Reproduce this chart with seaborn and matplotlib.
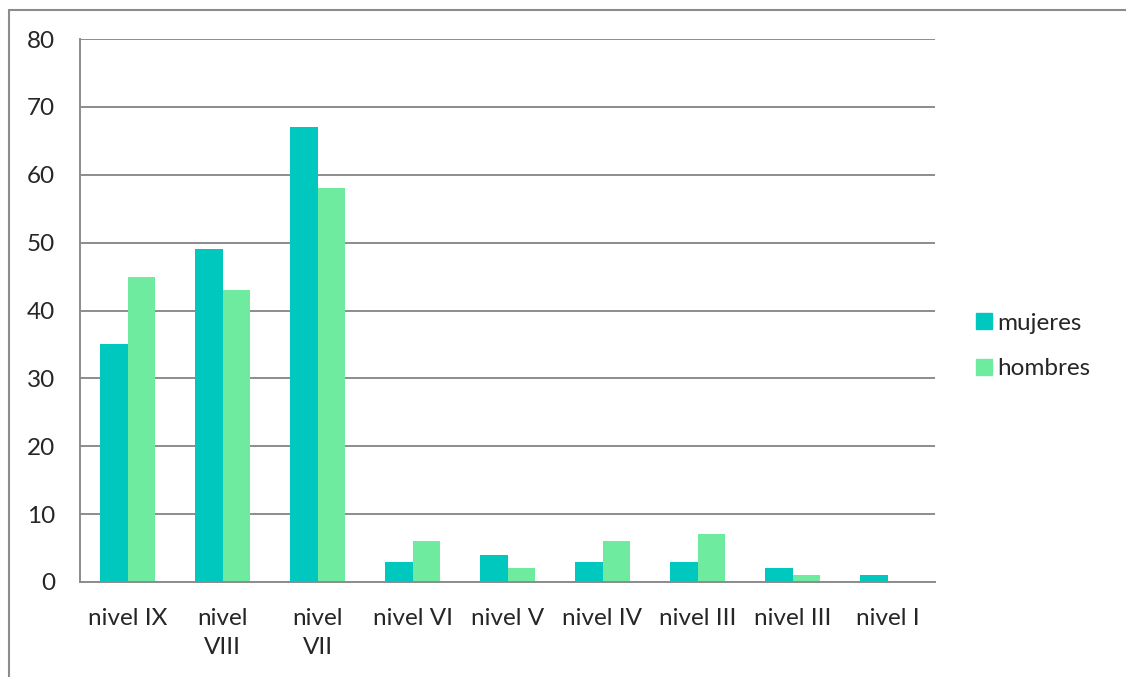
import matplotlib
matplotlib.use("Agg")
import matplotlib.pyplot as plt
import matplotlib.lines as mlines
import pandas as pd
import seaborn as sns

# dati
niveles = ["nivel IX", "nivel\nVIII", "nivel\nVII", "nivel VI", "nivel V",
           "nivel IV", "nivel III", "nivel III", "nivel I"]
mujeres = [35, 49, 67, 3, 4, 3, 3, 2, 1]
hombres = [45, 43, 58, 6, 2, 6, 7, 1, 0]
series = ["mujeres", "hombres"]
colores = ["#00C8BE", "#6EEB9E"]

# chiavi uniche: "nivel III" compare due volte
keys = [str(i) for i in range(len(niveles))]
df = pd.DataFrame({
    "cat": keys * 2,
    "valor": mujeres + hombres,
    "sexo": ["mujeres"] * len(keys) + ["hombres"] * len(keys),
})

sns.set_style("white")
plt.rcParams["font.family"] = ["Lato", "DejaVu Sans"]
fs = 17.5

fig = plt.figure(figsize=(11.26, 6.77), dpi=100)
ax = fig.add_axes([80 / 1126, 1 - 582 / 677, 855 / 1126, 543 / 677])

sns.barplot(data=df, x="cat", y="valor", hue="sexo", order=keys,
            hue_order=series, palette=colores, width=0.57, gap=0,
            saturation=1, ax=ax, legend=False, linewidth=0)

gris = "#8c8c8c"
ax.set_ylim(0, 80)
ax.set_xlim(-0.5, len(keys) - 0.5)
ax.set_yticks(range(0, 81, 10))
ax.yaxis.grid(True, color=gris, linewidth=1.4)
ax.set_axisbelow(True)

# tacche tra le categorie, etichette al centro
ax.set_xticks([i - 0.5 for i in range(len(keys) + 1)])
ax.set_xticklabels([])
ax.set_xticks(range(len(keys)), minor=True)
ax.set_xticklabels(niveles, minor=True, fontsize=fs)
ax.tick_params(axis="x", which="major", length=8, width=1.4, color=gris, direction="out")
ax.tick_params(axis="x", which="minor", length=0, pad=19)
ax.tick_params(axis="y", length=8, width=1.4, color=gris, labelsize=fs, pad=10)
for lab in ax.get_xticklabels(minor=True):
    lab.set_linespacing(1.45)
    lab.set_verticalalignment("top")

for s in ["top", "right"]:
    ax.spines[s].set_visible(False)
for s in ["left", "bottom"]:
    ax.spines[s].set_color(gris)
    ax.spines[s].set_linewidth(1.4)
ax.set_xlabel("")
ax.set_ylabel("")

handles = [mlines.Line2D([], [], color=c, marker="s", linestyle="none",
                         markersize=12) for c in colores]
fig.legend(handles, series, loc="center left",
           bbox_to_anchor=(950 / 1126, 1 - 346 / 677), frameon=False,
           fontsize=fs, handletextpad=0.05, labelspacing=1.0, handlelength=1.0)

# bordo esterno
fig.add_artist(mlines.Line2D([9 / 1126, 9 / 1126], [0, 1 - 9.5 / 677],
                             color=gris, linewidth=1.5, transform=fig.transFigure))
fig.add_artist(mlines.Line2D([9 / 1126, 1], [1 - 9.5 / 677, 1 - 9.5 / 677],
                             color=gris, linewidth=1.5, transform=fig.transFigure))

fig.savefig("out.png", dpi=100)
